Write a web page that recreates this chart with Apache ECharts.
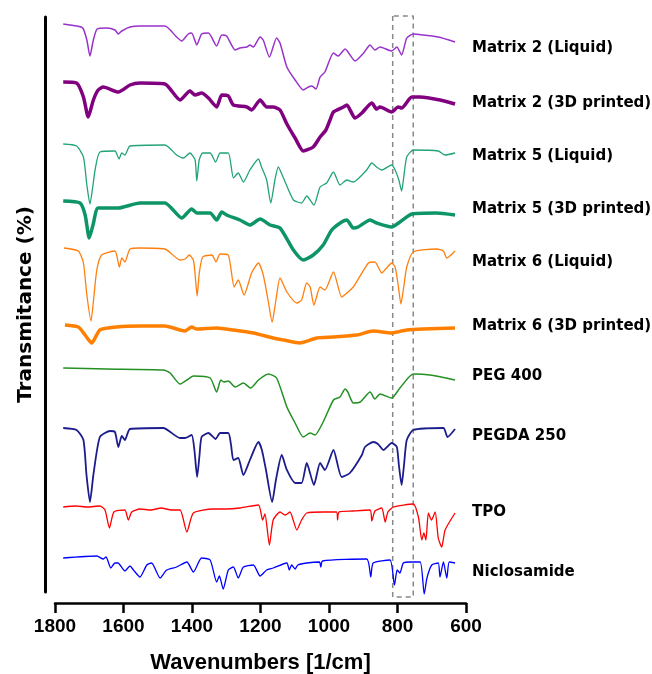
<!DOCTYPE html>
<html>
<head>
<meta charset="utf-8">
<script src="https://cdn.jsdelivr.net/npm/echarts@6/dist/echarts.min.js"></script>
<style>
html,body{margin:0;padding:0;background:#fff;}
#chart{width:652px;height:674px;}
</style>
</head>
<body>
<div id="chart"></div>
<script>
// ---- data: [wavenumber (1/cm), transmittance (offset, a.u.)] ----
const seriesNames = ['Matrix 2 (Liquid)','Matrix 2 (3D printed)','Matrix 5 (Liquid)','Matrix 5 (3D printed)','Matrix 6 (Liquid)','Matrix 6 (3D printed)','PEG 400','PEGDA 250','TPO','Niclosamide'];
const xTicks = [1800,1600,1400,1200,1000,800,600];
const highlightRange = [814, 754];

const matrix2Liquid = [[1776,568],[1737,566],[1719,564],[1707,552],[1698,536],[1688,552],[1677,563],[1649,564],[1625,562],[1615,558],[1605,561],[1581,565],[1552,566],[1479,566],[1445,555],[1430,551],[1411,558],[1401,559],[1386,547],[1372,558],[1352,559],[1328,546],[1313,557],[1299,556],[1274,542],[1260,544],[1240,545],[1231,547],[1221,545],[1201,555],[1192,552],[1174,535],[1153,554],[1143,549],[1123,525],[1099,512],[1075,502],[1060,505],[1050,506],[1038,503],[1026,515],[1012,520],[987,539],[973,536],[953,543],[924,531],[899,539],[880,547],[866,542],[851,545],[817,541],[802,545],[788,537],[773,554],[754,558],[725,557],[681,555],[632,550]];
const matrix2Printed = [[1776,510],[1737,509],[1717,495],[1703,475],[1688,492],[1674,502],[1659,505],[1615,500],[1581,507],[1552,509],[1479,508],[1435,492],[1406,501],[1391,497],[1372,499],[1352,494],[1328,485],[1313,497],[1294,496],[1279,487],[1240,485],[1226,482],[1201,492],[1182,485],[1163,485],[1143,482],[1123,468],[1099,454],[1075,441],[1046,445],[1026,455],[1009,462],[997,472],[987,480],[958,485],[948,487],[924,474],[904,479],[875,489],[861,483],[851,485],[817,480],[798,485],[788,484],[758,495],[734,495],[676,492],[632,488]];
const matrix5Liquid = [[1776,448],[1737,446],[1717,435],[1707,407],[1698,388],[1689,407],[1683,422],[1669,440],[1625,441],[1613,433],[1605,439],[1596,437],[1581,446],[1479,447],[1445,437],[1425,434],[1406,439],[1391,432],[1386,411],[1379,432],[1369,439],[1347,439],[1331,430],[1318,439],[1294,439],[1279,414],[1265,419],[1250,410],[1231,422],[1206,433],[1197,425],[1182,412],[1170,389],[1158,412],[1148,425],[1133,414],[1104,392],[1080,389],[1065,396],[1044,387],[1026,405],[1007,409],[987,420],[968,407],[948,412],[929,410],[890,422],[875,429],[861,425],[846,422],[817,427],[807,422],[796,412],[788,401],[781,417],[773,435],[754,442],[681,441],[661,437],[632,439]];
const matrix5Printed = [[1776,391],[1727,389],[1712,377],[1700,354],[1689,367],[1674,384],[1615,384],[1552,389],[1479,389],[1430,374],[1401,383],[1386,379],[1347,379],[1328,372],[1313,380],[1299,377],[1260,372],[1231,367],[1201,373],[1172,367],[1143,364],[1104,342],[1075,332],[1046,337],[1017,347],[992,362],[963,370],[948,372],[929,364],[915,365],[880,372],[861,369],[817,365],[793,370],[758,378],[686,379],[632,377]];
const matrix6Liquid = [[1774,344],[1732,341],[1717,329],[1707,297],[1695,271],[1686,297],[1678,322],[1664,337],[1625,341],[1612,325],[1605,334],[1596,330],[1581,343],[1552,344],[1479,343],[1435,332],[1420,333],[1408,337],[1396,332],[1391,318],[1385,296],[1379,318],[1369,335],[1342,337],[1330,330],[1318,338],[1294,337],[1277,305],[1265,312],[1248,297],[1226,319],[1206,329],[1192,317],[1178,292],[1166,270],[1155,292],[1143,314],[1123,300],[1094,289],[1080,292],[1065,309],[1055,305],[1044,287],[1026,305],[1012,302],[987,320],[963,295],[948,299],[929,305],[885,329],[866,330],[846,319],[832,324],[817,329],[807,325],[798,307],[790,288],[781,307],[773,325],[754,340],[686,343],[666,341],[656,334],[632,341]];
const matrix6Printed = [[1771,267],[1732,265],[1712,257],[1693,249],[1669,262],[1620,265],[1552,266],[1479,266],[1435,262],[1420,261],[1401,265],[1386,263],[1328,264],[1279,262],[1221,259],[1163,254],[1133,252],[1085,249],[1036,254],[987,255],[919,257],[871,261],[817,259],[801,260],[773,262],[725,263],[632,264]];
const peg400 = [[1776,224],[1649,223],[1484,222],[1464,219],[1435,208],[1415,212],[1396,216],[1347,214],[1328,200],[1316,212],[1307,210],[1294,211],[1274,205],[1250,209],[1229,204],[1206,212],[1177,218],[1153,214],[1123,185],[1099,169],[1075,155],[1055,159],[1041,157],[1017,170],[987,192],[968,195],[953,203],[945,200],[929,189],[909,190],[880,200],[866,193],[851,198],[817,194],[793,204],[754,218],[705,217],[632,212]];
const pegda250 = [[1776,164],[1737,162],[1717,152],[1708,117],[1698,90],[1688,117],[1669,155],[1639,161],[1625,160],[1615,145],[1605,156],[1596,152],[1581,163],[1484,164],[1435,154],[1420,154],[1401,157],[1393,142],[1385,115],[1378,137],[1372,155],[1352,159],[1331,153],[1318,159],[1294,159],[1286,147],[1279,132],[1265,134],[1250,117],[1231,132],[1206,150],[1196,142],[1184,122],[1166,90],[1155,112],[1138,137],[1123,122],[1099,109],[1080,109],[1065,129],[1044,107],[1026,129],[1012,122],[987,142],[963,115],[939,119],[904,137],[895,145],[871,150],[857,148],[841,142],[817,149],[802,145],[796,127],[788,107],[781,127],[773,152],[754,162],[666,164],[654,155],[632,163]];
const tpo = [[1776,85],[1740,86],[1705,85],[1669,86],[1654,82],[1641,64],[1628,80],[1596,82],[1586,72],[1576,80],[1552,83],[1520,82],[1490,84],[1460,82],[1435,82],[1415,60],[1396,79],[1338,83],[1300,83],[1260,84],[1206,87],[1194,72],[1187,78],[1174,47],[1163,72],[1143,80],[1128,77],[1114,80],[1094,62],[1080,72],[1065,79],[1017,80],[978,80],[975,72],[971,80],[930,81],[880,82],[875,71],[866,81],[846,84],[836,70],[828,80],[812,85],[754,88],[739,75],[729,52],[723,59],[717,52],[710,79],[701,72],[690,80],[681,54],[671,45],[661,62],[632,79]];
const niclosamide = [[1776,34],[1678,36],[1659,33],[1651,35],[1637,24],[1625,29],[1616,29],[1610,27],[1596,21],[1581,26],[1571,22],[1552,15],[1532,27],[1518,29],[1493,14],[1474,22],[1445,25],[1415,30],[1396,20],[1372,34],[1347,32],[1328,10],[1320,16],[1309,3],[1294,22],[1279,25],[1265,14],[1250,25],[1221,27],[1201,16],[1182,22],[1163,24],[1123,29],[1116,22],[1109,27],[1099,23],[1091,27],[1065,29],[1028,30],[1024,25],[1019,31],[890,33],[878,15],[871,29],[822,32],[809,7],[801,22],[793,19],[783,29],[763,30],[734,30],[722,-2],[714,14],[700,27],[681,29],[676,15],[666,30],[656,14],[649,30],[632,29]];

const seriesData = [matrix2Liquid, matrix2Printed, matrix5Liquid, matrix5Printed, matrix6Liquid, matrix6Printed, peg400, pegda250, tpo, niclosamide];

// ---- styles / layout ----
const colors = ['#9932CC','#800080','#22A37A','#0E9566','#FF7F0E','#FF8000','#239023','#1C1C8C','#FF0000','#0000FF'];
const widths = [1.5,3.5,1.3,3.5,1.3,3.5,1.5,1.8,1.3,1.3];
const labelY = [50,105,158,211,264,328,378,438,514,574];

const chart = echarts.init(document.getElementById('chart'));

const series = seriesData.map((d, i) => ({
  name: seriesNames[i],
  type: 'line',
  data: d,
  showSymbol: false,
  symbol: 'none',
  smooth: 0.2,
  clip: false,
  lineStyle: { color: colors[i], width: widths[i] },
  silent: true,
  z: 3
}));

series.push({
  type: 'line',
  data: [[highlightRange[0],576],[highlightRange[0],-5],[highlightRange[1],-5],[highlightRange[1],576],[highlightRange[0],576]],
  symbol: 'none',
  clip: false,
  silent: true,
  lineStyle: { color: '#888', width: 1.5, type: [5,4] },
  z: 2
});

const option = {
  animation: false,
  backgroundColor: '#fff',
  grid: { left: 55, right: 186, top: 17, bottom: 82, containLabel: false, outerBoundsMode: 'none' },
  xAxis: {
    type: 'value', min: 600, max: 1800, interval: 200, inverse: true,
    position: 'bottom', offset: 11,
    axisLine: { show: true, onZero: false, lineStyle: { color: '#000', width: 2.5 } },
    axisTick: { show: true, length: 10, inside: false, lineStyle: { color: '#000', width: 2.5 } },
    axisLabel: { color: '#000', fontFamily: 'Liberation Sans', fontWeight: 'bold', fontSize: 19, margin: 14,
      formatter: v => (xTicks.indexOf(v) >= 0 ? String(v) : '') },
    splitLine: { show: false },
    name: 'Wavenumbers [1/cm]', nameLocation: 'middle', nameGap: 49,
    nameTextStyle: { color: '#000', fontFamily: 'Liberation Sans', fontWeight: 'bold', fontSize: 22 }
  },
  yAxis: {
    type: 'value', min: 0, max: 575,
    position: 'left', offset: 10,
    axisLine: { show: true, onZero: false, lineStyle: { color: '#000', width: 3 } },
    axisTick: { show: false }, axisLabel: { show: false }, splitLine: { show: false },
    name: 'Transmitance (%)', nameLocation: 'middle', nameGap: 9, nameRotate: 90,
    nameTextStyle: { color: '#000', fontFamily: 'DejaVu Sans', fontWeight: 'bold', fontSize: 20 }
  },
  series: series,
  graphic: seriesNames.map((n, i) => ({
    type: 'text', left: 472, top: labelY[i] - 9,
    style: { text: n, fill: '#000', font: 'bold 15px "DejaVu Sans"' }
  }))
};
chart.setOption(option);
</script>
</body>
</html>
